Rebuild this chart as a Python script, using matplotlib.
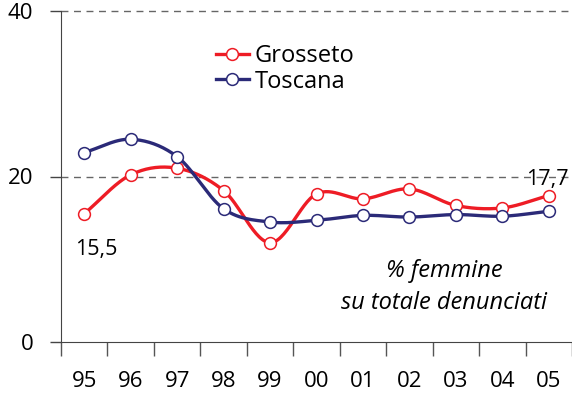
import numpy as np
import matplotlib
matplotlib.use("Agg")
import matplotlib.pyplot as plt

# Data
years = ["95", "96", "97", "98", "99", "00", "01", "02", "03", "04", "05"]
grosseto = [15.5, 20.2, 21.0, 18.3, 12.0, 17.9, 17.3, 18.5, 16.5, 16.2, 17.7]
toscana = [22.9, 24.5, 22.4, 16.1, 14.5, 14.7, 15.3, 15.1, 15.4, 15.2, 15.8]

red = "#ee1c25"
navy = "#2b2a78"

plt.rcParams['font.family'] = ['Open Sans', 'DejaVu Sans']


def smooth(y, n=30):
    # Catmull-Rom curve through the points (like Excel's smoothed line)
    y = np.asarray(y, dtype=float)
    x = np.arange(len(y), dtype=float)
    p = np.concatenate([[2 * y[0] - y[1]], y, [2 * y[-1] - y[-2]]])
    xs, ys = [], []
    for i in range(len(y) - 1):
        t = np.linspace(0, 1, n, endpoint=False)
        p0, p1, p2, p3 = p[i], p[i + 1], p[i + 2], p[i + 3]
        seg = 0.5 * ((2 * p1) + (-p0 + p2) * t + (2 * p0 - 5 * p1 + 4 * p2 - p3) * t ** 2
                     + (-p0 + 3 * p1 - 3 * p2 + p3) * t ** 3)
        xs.append(x[i] + t)
        ys.append(seg)
    xs.append([x[-1]])
    ys.append([y[-1]])
    return np.concatenate(xs), np.concatenate(ys)


fig = plt.figure(figsize=(5.72, 4.03), dpi=100)
ax = fig.add_axes([61 / 572, 61 / 403, 1 - 61 / 572, 331 / 403])

x = np.arange(len(years))
for vals, col, lab in [(grosseto, red, "Grosseto"), (toscana, navy, "Toscana")]:
    sx, sy = smooth(vals)
    ax.plot(sx, sy, color=col, lw=2.4, zorder=3)
    ax.plot(x, vals, "o", ms=8.5, mfc="white", mec=col, mew=1.1, zorder=4)
    ax.plot([], [], "-o", color=col, lw=2.4, ms=8.5, mfc="white", mec=col, mew=1.1, label=lab)

ax.set_xlim(-0.5, 10.37)
ax.set_ylim(0, 40)
ax.set_yticks([0, 20, 40])
ax.set_xticks(np.arange(-0.5, 11, 1), minor=False)
ax.set_xticklabels([""] * 12)
ax.set_xticks(x, minor=True)
ax.set_xticklabels(years, minor=True)
ax.tick_params(axis="x", which="major", length=10, color="#555555", width=1)
ax.tick_params(axis="x", which="minor", length=0, pad=21, labelsize=16)
ax.tick_params(axis="y", length=8, color="#444444", width=1, labelsize=16, pad=12)

for yv in [20, 40]:
    ax.axhline(yv, color="#666666", lw=1, ls=(0, (5, 4)), zorder=1, clip_on=False)

for s in ["top", "right"]:
    ax.spines[s].set_visible(False)
ax.spines["left"].set_color("#444444")
ax.spines["bottom"].set_color("#444444")

ax.text(0.25, 12.4, "15,5", fontsize=15.5, ha="center", va="top")
ax.text(9.98, 18.4, "17,7", fontsize=15.5, ha="center", va="bottom")
ax.text(7.75, 6.6, "% femmine\nsu totale denunciati", fontsize=17, style="italic",
        ha="center", va="center", linespacing=1.45)

ax.legend(loc="upper left", bbox_to_anchor=(0.28, 0.935), frameon=False, fontsize=17,
          handlelength=1.4, handletextpad=0.25, labelspacing=0.05, borderpad=0)

fig.savefig("out.png", dpi=100)
